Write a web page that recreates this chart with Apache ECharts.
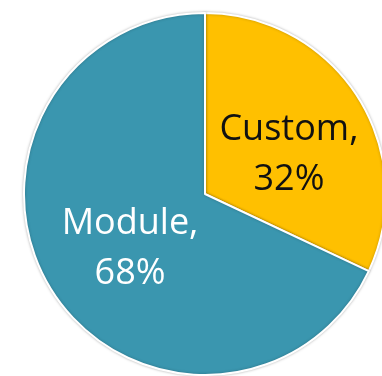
<!DOCTYPE html>
<html>
<head>
<meta charset="utf-8">
<script src="https://cdn.jsdelivr.net/npm/echarts@6/dist/echarts.min.js"></script>
<style>
  html, body { margin: 0; padding: 0; background: #ffffff; }
  #chart { width: 382px; height: 376px; }
</style>
</head>
<body>
<div id="chart"></div>
<script>
// Share of builds by type
const categories = ['Custom', 'Module'];
const shares = [32, 68];
const sliceColors = ['#FFC000', '#3A96AF'];
const labelColors = ['#111111', '#ffffff'];
// Small nudges of each label from its default inner spot: [dx, dy]
const labelNudges = [[5, 11], [4, 5]];

const chart = echarts.init(document.getElementById('chart'), null, { renderer: 'canvas' });

chart.setOption({
  animation: false,
  series: [{
    type: 'pie',
    center: [205, 194],
    radius: [0, 181],
    startAngle: 90,
    clockwise: true,
    data: categories.map((name, i) => ({
      name,
      value: shares[i],
      itemStyle: { color: sliceColors[i] },
      label: { color: labelColors[i] }
    })),
    itemStyle: {
      borderColor: '#ffffff',
      borderWidth: 2,
      shadowBlur: 3,
      shadowColor: 'rgba(0,0,0,0.25)'
    },
    label: {
      show: true,
      position: 'inner',
      formatter: p => p.name + ',\n' + p.value + '%',
      fontFamily: 'Open Sans',
      fontSize: 36,
      lineHeight: 50,
      align: 'center'
    },
    labelLayout: p => ({ dx: labelNudges[p.dataIndex][0], dy: labelNudges[p.dataIndex][1] }),
    labelLine: { show: false },
    emphasis: { disabled: true }
  }]
});
</script>
</body>
</html>
